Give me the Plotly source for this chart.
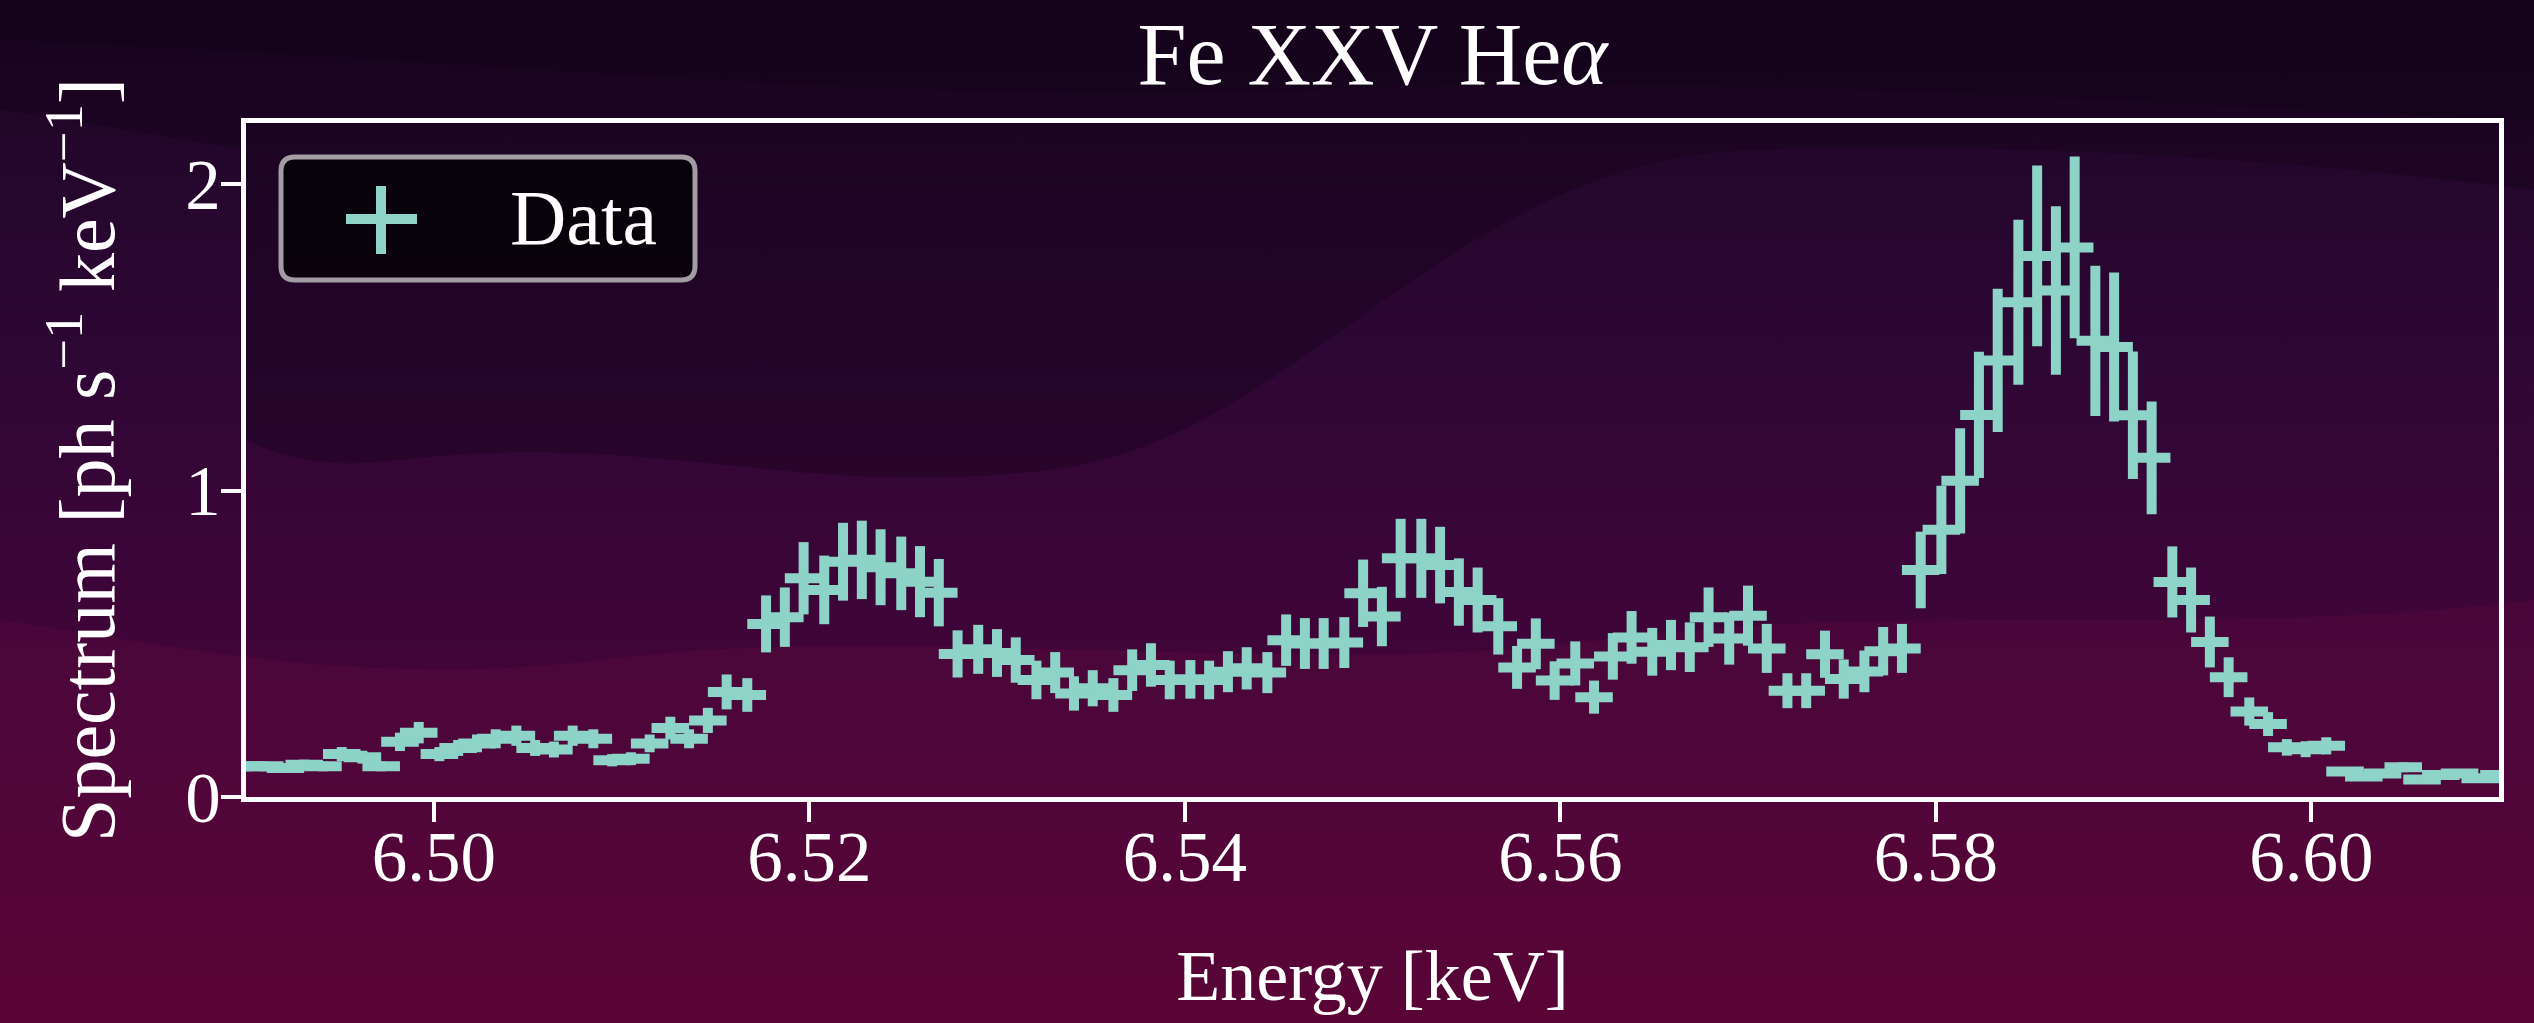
import base64
import plotly.graph_objects as go

# ---------------- data ----------------
energy_keV = [
    6.4900, 6.4910, 6.4921, 6.4931, 6.4941, 6.4951, 6.4962, 6.4972, 6.4982, 6.4992,
    6.5003, 6.5013, 6.5023, 6.5033, 6.5044, 6.5054, 6.5064, 6.5074, 6.5085, 6.5095,
    6.5105, 6.5115, 6.5126, 6.5136, 6.5146, 6.5156, 6.5167, 6.5177, 6.5187, 6.5197,
    6.5208, 6.5218, 6.5228, 6.5238, 6.5249, 6.5259, 6.5269, 6.5279, 6.5290, 6.5300,
    6.5310, 6.5321, 6.5331, 6.5341, 6.5351, 6.5362, 6.5372, 6.5382, 6.5392, 6.5403,
    6.5413, 6.5423, 6.5433, 6.5444, 6.5454, 6.5464, 6.5474, 6.5485, 6.5495, 6.5505,
    6.5515, 6.5526, 6.5536, 6.5546, 6.5556, 6.5567, 6.5577, 6.5587, 6.5597, 6.5608,
    6.5618, 6.5628, 6.5638, 6.5649, 6.5659, 6.5669, 6.5679, 6.5690, 6.5700, 6.5710,
    6.5721, 6.5731, 6.5741, 6.5751, 6.5762, 6.5772, 6.5782, 6.5792, 6.5803, 6.5813,
    6.5823, 6.5833, 6.5844, 6.5854, 6.5864, 6.5874, 6.5885, 6.5895, 6.5905, 6.5915,
    6.5926, 6.5936, 6.5946, 6.5956, 6.5967, 6.5977, 6.5987, 6.5997, 6.6008, 6.6018,
    6.6028, 6.6038, 6.6049, 6.6059, 6.6069, 6.6079, 6.6090, 6.6100,
]

spectrum = [
    0.100, 0.100, 0.095, 0.105, 0.100, 0.140, 0.130, 0.100, 0.180, 0.210,
    0.140, 0.160, 0.175, 0.190, 0.200, 0.160, 0.155, 0.200, 0.190, 0.120,
    0.125, 0.175, 0.225, 0.190, 0.250, 0.343, 0.333, 0.565, 0.587, 0.714,
    0.676, 0.768, 0.774, 0.750, 0.730, 0.703, 0.667, 0.467, 0.482, 0.470,
    0.447, 0.382, 0.406, 0.338, 0.355, 0.333, 0.414, 0.431, 0.382, 0.384,
    0.382, 0.409, 0.420, 0.406, 0.512, 0.501, 0.501, 0.504, 0.665, 0.589,
    0.779, 0.779, 0.757, 0.669, 0.643, 0.557, 0.423, 0.500, 0.380, 0.436,
    0.326, 0.459, 0.521, 0.474, 0.496, 0.489, 0.587, 0.517, 0.592, 0.485,
    0.347, 0.347, 0.466, 0.385, 0.410, 0.476, 0.485, 0.741, 0.872, 1.032,
    1.247, 1.425, 1.615, 1.766, 1.653, 1.794, 1.489, 1.469, 1.246, 1.107,
    0.702, 0.643, 0.506, 0.391, 0.279, 0.238, 0.162, 0.156, 0.167, 0.083,
    0.067, 0.077, 0.097, 0.057, 0.072, 0.077, 0.061, 0.072,
]

spectrum_err = [
    0.016, 0.016, 0.016, 0.017, 0.016, 0.023, 0.021, 0.016, 0.030, 0.035,
    0.023, 0.026, 0.029, 0.031, 0.033, 0.026, 0.026, 0.033, 0.031, 0.020,
    0.021, 0.029, 0.037, 0.031, 0.041, 0.057, 0.055, 0.093, 0.097, 0.118,
    0.112, 0.127, 0.128, 0.124, 0.120, 0.116, 0.110, 0.077, 0.080, 0.078,
    0.074, 0.063, 0.067, 0.056, 0.059, 0.055, 0.068, 0.071, 0.063, 0.063,
    0.063, 0.067, 0.069, 0.067, 0.084, 0.083, 0.083, 0.083, 0.110, 0.097,
    0.129, 0.129, 0.125, 0.110, 0.106, 0.092, 0.070, 0.083, 0.063, 0.072,
    0.054, 0.076, 0.086, 0.078, 0.082, 0.081, 0.097, 0.085, 0.098, 0.080,
    0.057, 0.057, 0.077, 0.064, 0.068, 0.079, 0.080, 0.125, 0.144, 0.172,
    0.206, 0.234, 0.269, 0.295, 0.275, 0.297, 0.245, 0.243, 0.208, 0.184,
    0.116, 0.106, 0.083, 0.065, 0.046, 0.039, 0.027, 0.026, 0.028, 0.014,
    0.011, 0.013, 0.016, 0.009, 0.012, 0.013, 0.010, 0.012,
]

energy_halfwidth = 0.001

x_tick_values = [6.50, 6.52, 6.54, 6.56, 6.58, 6.60]
x_tick_labels = ["6.50", "6.52", "6.54", "6.56", "6.58", "6.60"]
y_tick_values = [0, 1, 2]
y_tick_labels = ["0", "1", "2"]

series_name = "Data"
title_text = "Fe XXV He<i>α</i>"
x_title = "Energy [keV]"
y_title = "Spectrum [ph s<sup>−1</sup> keV<sup>−1</sup>]"

# ---------------- layout geometry (pixels) ----------------
W, H = 2534, 1023
PL, PR, PT, PB = 246, 2499, 123, 797
DATA_COLOR = "#8dd3c7"
FONT = "Liberation Serif"


def fx(px):
    return px / W


def fy(py):
    return 1 - py / H


# ---------------- background (gradient with soft waves) ----------------
svg = f"""<svg xmlns="http://www.w3.org/2000/svg" width="{W}" height="{H}" viewBox="0 0 {W} {H}" preserveAspectRatio="none">
<defs>
<linearGradient id="g" x1="0" y1="0" x2="0" y2="1">
<stop offset="0" stop-color="#1c0624"/>
<stop offset="0.35" stop-color="#2e0735"/>
<stop offset="0.7" stop-color="#440439"/>
<stop offset="1" stop-color="#540232"/>
</linearGradient>
</defs>
<rect x="0" y="0" width="{W}" height="{H}" fill="url(#g)"/>
<path d="M0,0 L{W},0 L{W},190 C2300,160 2000,140 1750,150 C1450,160 1300,440 1050,470 C800,500 650,430 400,460 C320,470 280,455 246,440 L246,150 C180,140 80,120 0,110 Z" fill="#0c0010" fill-opacity="0.28"/>
<path d="M0,0 L{W},0 L{W},120 C2200,110 1800,70 1300,90 C900,105 500,60 0,40 Z" fill="#0c0010" fill-opacity="0.25"/>
<path d="M0,{H} L{W},{H} L{W},600 C2200,640 1900,600 1600,640 C1300,680 900,620 600,660 C350,690 150,640 0,620 Z" fill="#6a0a40" fill-opacity="0.25"/>
</svg>"""
bg_uri = "data:image/svg+xml;base64," + base64.b64encode(svg.encode("utf-8")).decode("ascii")

fig = go.Figure()

fig.add_trace(
    go.Scatter(
        x=energy_keV,
        y=spectrum,
        mode="markers",
        name=series_name,
        showlegend=False,
        marker=dict(size=1, color=DATA_COLOR),
        error_x=dict(type="constant", value=energy_halfwidth, thickness=10, width=0, color=DATA_COLOR),
        error_y=dict(type="data", array=spectrum_err, visible=True, thickness=10, width=0, color=DATA_COLOR),
        cliponaxis=True,
    )
)

axis_common = dict(
    showgrid=False,
    zeroline=False,
    showline=True,
    linecolor="white",
    linewidth=5,
    mirror=True,
    ticks="outside",
    ticklen=20,
    tickwidth=4,
    tickcolor="white",
    tickfont=dict(family=FONT, size=71, color="white"),
    automargin=False,
)

fig.update_layout(
    width=W,
    height=H,
    margin=dict(l=0, r=0, t=0, b=0),
    paper_bgcolor="#2a0530",
    plot_bgcolor="rgba(0,0,0,0)",
    font=dict(family=FONT, color="white", size=71),
    showlegend=False,
    title=dict(
        text=title_text,
        x=((PL + PR) / 2) / W,
        xanchor="center",
        xref="paper",
        y=fy(53),
        yanchor="middle",
        yref="container",
        font=dict(family=FONT, size=88, color="white"),
    ),
    xaxis=dict(
        domain=[fx(PL), fx(PR)],
        range=[6.49, 6.61],
        tickvals=x_tick_values,
        ticktext=x_tick_labels,
        ticklabelstandoff=-26,
        title=dict(text=x_title, standoff=56, font=dict(family=FONT, size=72, color="white")),
        **axis_common,
    ),
    yaxis=dict(
        domain=[fy(PB), fy(PT)],
        range=[0, 2.2],
        tickvals=y_tick_values,
        ticktext=y_tick_labels,
        ticklabelstandoff=-14,
        title=dict(text=y_title, standoff=46, font=dict(family=FONT, size=78, color="white")),
        **axis_common,
    ),
    images=[
        dict(
            source=bg_uri,
            xref="paper",
            yref="paper",
            x=0,
            y=1,
            sizex=1,
            sizey=1,
            sizing="stretch",
            xanchor="left",
            yanchor="top",
            layer="below",
        )
    ],
)

# ---------------- legend box (drawn to match the rounded frame) ----------------
lx0, lx1, ly0, ly1, r = 281, 695, 157, 280, 14
path = (
    f"M {fx(lx0 + r)},{fy(ly0)} L {fx(lx1 - r)},{fy(ly0)} "
    f"Q {fx(lx1)},{fy(ly0)} {fx(lx1)},{fy(ly0 + r)} "
    f"L {fx(lx1)},{fy(ly1 - r)} Q {fx(lx1)},{fy(ly1)} {fx(lx1 - r)},{fy(ly1)} "
    f"L {fx(lx0 + r)},{fy(ly1)} Q {fx(lx0)},{fy(ly1)} {fx(lx0)},{fy(ly1 - r)} "
    f"L {fx(lx0)},{fy(ly0 + r)} Q {fx(lx0)},{fy(ly0)} {fx(lx0 + r)},{fy(ly0)} Z"
)
fig.add_shape(
    type="path", path=path, xref="paper", yref="paper",
    fillcolor="rgba(6,2,7,0.88)", line=dict(color="#a39ca3", width=5), layer="above",
)
cx, cy = 381, 219
fig.add_shape(type="line", xref="paper", yref="paper",
              x0=fx(346), x1=fx(417), y0=fy(cy), y1=fy(cy),
              line=dict(color=DATA_COLOR, width=10), layer="above")
fig.add_shape(type="line", xref="paper", yref="paper",
              x0=fx(cx), x1=fx(cx), y0=fy(186), y1=fy(254),
              line=dict(color=DATA_COLOR, width=10), layer="above")
fig.add_annotation(
    text=series_name, xref="paper", yref="paper", x=fx(508), y=fy(217),
    xanchor="left", yanchor="middle", showarrow=False,
    font=dict(family=FONT, size=78, color="white"),
)

fig.write_html("out.html")
